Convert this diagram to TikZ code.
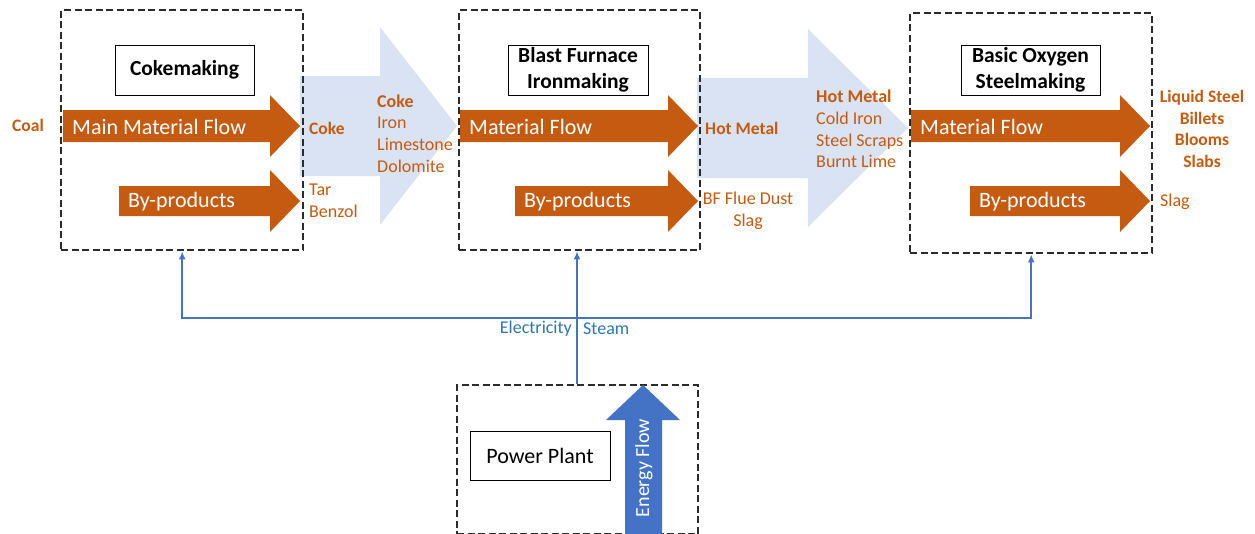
\documentclass[tikz,border=0pt]{standalone}
\usepackage{fontspec}
\setmainfont{Carlito}
\usetikzlibrary{arrows.meta}
\definecolor{rust}{HTML}{C55A11}
\definecolor{paleblue}{HTML}{DAE3F3}
\definecolor{flowblue}{HTML}{4472C4}
\definecolor{labelblue}{HTML}{2E75B6}
\definecolor{dashgray}{HTML}{2B2B2B}

% block arrow pointing right: fill, x start, x neck, x tip, y mid, half shaft, half head
\newcommand\rightblock[7]{%
  \fill[#1] (#2,{#5-#6}) -- (#3,{#5-#6}) -- (#3,{#5-#7}) -- (#4,#5)
    -- (#3,{#5+#7}) -- (#3,{#5+#6}) -- (#2,{#5+#6}) -- cycle;}

\tikzset{
  stagebox/.style={draw=dashgray, line width=2.4, dash pattern=on 7pt off 3.5pt,
    inner sep=0, anchor=north west},
  titlebox/.style={draw=black, line width=0.9, fill=white, inner sep=0,
    align=center, font=\bfseries\fontsize{21.5}{26}\selectfont},
  flowtext/.style={text=white, anchor=west, inner sep=0,
    font=\fontsize{22}{26}\selectfont},
  sidelabel/.style={text=rust, inner sep=0, font=\fontsize{18}{21.8}\selectfont},
  sidebold/.style={sidelabel, font=\bfseries\fontsize{17.5}{21.8}\selectfont},
  elec/.style={draw=flowblue, line width=2, -{Latex[length=8,width=7]}},
  utility/.style={text=labelblue, inner sep=0, font=\fontsize{18}{21}\selectfont},
}

\begin{document}
\begin{tikzpicture}[x=1pt,y=-1pt]
\useasboundingbox (0,0) rectangle (1255,533);
\clip (0,0) rectangle (1255,533);

% broad transfer arrows between the stages
\rightblock{paleblue}{300}{380}{457}{126}{50}{99}
\rightblock{paleblue}{697}{808}{908}{128}{50}{99}

% stage frames
\node[stagebox, minimum width=242, minimum height=240] (coke) at (60,9) {};
\node[stagebox, minimum width=241, minimum height=240] (bf) at (458,9) {};
\node[stagebox, minimum width=242, minimum height=240] (bof) at (909,12) {};
\node[stagebox, minimum width=241, minimum height=149] (pp) at (456,384) {};

% stage titles
\node[titlebox, minimum width=139, minimum height=50] (tcoke) at (184.5,70) {Cokemaking};
\node[titlebox, minimum width=140, minimum height=50] (tbf) at (578,70) {Blast Furnace\\Ironmaking};
\node[titlebox, minimum width=139, minimum height=50] (tbof) at (1030.5,70) {Basic Oxygen\\Steelmaking};
\node[titlebox, font=\fontsize{22}{26}\selectfont, minimum width=140, minimum height=49] (tpp) at (540,455.5) {Power Plant};

% material and by-product flows
\rightblock{rust}{63}{270}{300}{126}{16}{31}
\rightblock{rust}{119}{270}{300}{201}{15}{31}
\rightblock{rust}{460}{668}{698}{126}{16}{31}
\rightblock{rust}{515}{668}{698}{201}{15}{31}
\rightblock{rust}{911}{1120}{1150}{126}{16}{31}
\rightblock{rust}{970}{1120}{1150}{201}{15}{31}

\node[flowtext] (mf1) at (72,127) {Main Material Flow};
\node[flowtext] (bp1) at (128,202) {By-products};
\node[flowtext] (mf2) at (469,127) {Material Flow};
\node[flowtext] (bp2) at (524,202) {By-products};
\node[flowtext] (mf3) at (920,127) {Material Flow};
\node[flowtext] (bp3) at (979,202) {By-products};

% energy flow inside the power plant
\fill[flowblue] (625,540) -- (625,420) -- (606,420) -- (643,385) -- (680,420)
  -- (662,420) -- (662,540) -- cycle;
\node[text=white, rotate=90, inner sep=0, font=\fontsize{20}{24}\selectfont] (ef) at (644,468) {Energy Flow};

% stream labels
\node[sidebold, anchor=west] (coal) at (12,125) {Coal};
\node[sidebold, anchor=west] (cokeout) at (309,128) {Coke};
\node[sidelabel, anchor=west, align=left] (tar) at (309,200.5) {Tar\\Benzol};
\node[sidelabel, anchor=west, align=left] (feed1) at (377,133.5) {\textbf{Coke}\\Iron\\Limestone\\Dolomite};
\node[sidebold, anchor=west] (hm) at (705,128) {Hot Metal};
\node[sidelabel, align=center] (dust) at (748,211) {BF Flue Dust\\Slag};
\node[sidelabel, anchor=west, align=left] (feed2) at (816,129) {\textbf{Hot Metal}\\Cold Iron\\Steel Scraps\\Burnt Lime};
\node[sidebold, align=center] (prod) at (1202,129) {Liquid Steel\\Billets\\Blooms\\Slabs};
\node[sidelabel, anchor=west] (slag) at (1160,202) {Slag};

% utilities distribution
\coordinate (bus) at (577,318);
\draw[elec] (bus |- pp.north) -- (bus |- bf.south);
\draw[elec] (bus) -| (coke.south);
\draw[elec] (bus) -| (bof.south);
\node[utility, anchor=east] (el) at (572,329) {Electricity};
\node[utility, anchor=west] (st) at (583,329) {Steam};
\end{tikzpicture}
\end{document}
